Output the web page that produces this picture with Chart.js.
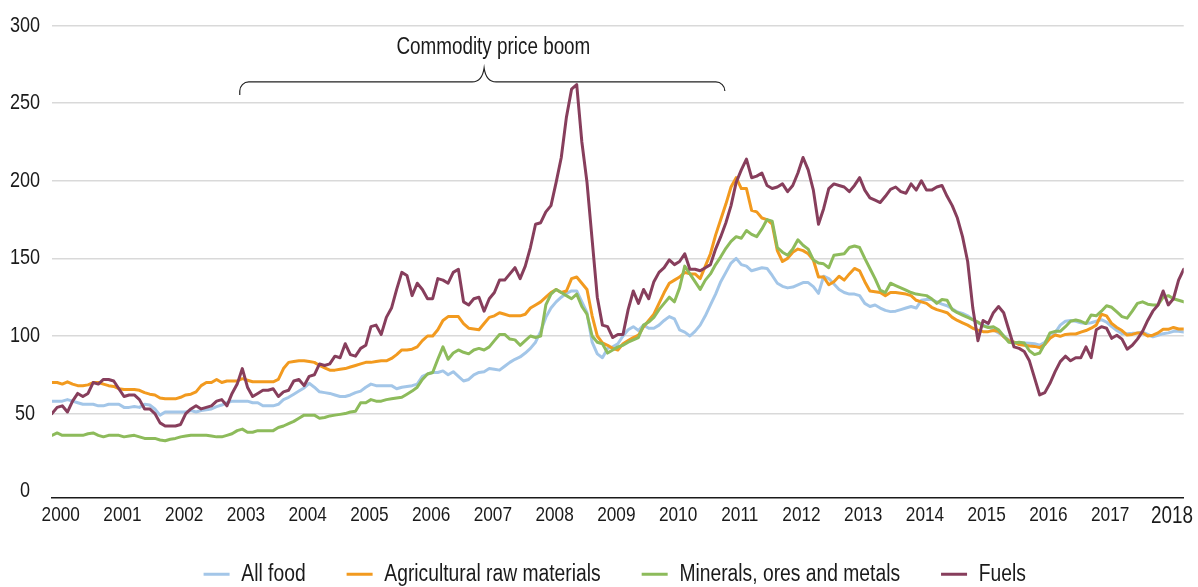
<!DOCTYPE html>
<html><head><meta charset="utf-8">
<script src="https://cdn.jsdelivr.net/npm/chart.js@4.4.0/dist/chart.umd.min.js"></script>
<style>html,body{margin:0;padding:0;background:#fff;}#wrap{width:1198px;height:587px;}</style>
</head><body><div id="wrap"><canvas id="c" width="1198" height="587"></canvas></div>
<script>
const FONT = "'Liberation Sans', Arial, sans-serif";
const CONDENSE = 0.82;
const startYear = 2000;
const yearLabels = ['2000','2001','2002','2003','2004','2005','2006','2007','2008','2009','2010','2011','2012','2013','2014','2015','2016','2017','2018'];
const yTickValues = [0, 50, 100, 150, 200, 250, 300];
const seriesNames = ['All food', 'Agricultural raw materials', 'Minerals, ores and metals', 'Fuels'];

const allFood = [58,58,58,59,58,57,56,56,56,55,
55,56,56,56,54,54,54.5,54,56,55.5,
53,49,51,51,51,51,51,52,51,52,
52.5,53,54.5,55.5,57,58,58,58,58,57,
57,55,55,55,56,59,60.5,62.5,64.5,66.5,
69.5,67,64,63.5,63,62,61,61,62,63.5,
64.5,67,69,68,68,68,68,66,67,67.5,
68,69,74,75.5,76.5,76.5,77.5,75,77,74,
71,72,75,76.5,77,79,78.5,78,80.5,83,
85,86.5,89,92,96,103,112,118,122,125,
127.5,129,129,122,115,96,88.5,86,92,93,
95,100,104,106,103.5,107,105,105,107,110,
112.5,111,104,102.5,100,103,107,113,120,127,
135,141,147,150,146,145,142,143,144,143.5,
139,134,132,131,131.5,133,134.4,134.4,131.8,127.5,
138.5,137,133.5,130,128,127,127,126,121,119,
120,118,116.5,115.7,116,117,118,119,118,123,
123.5,123.5,122,120.5,119.5,117.5,115.5,114.5,113,110.5,
108.5,107,106,104,102,100,97.5,96,95.7,95.5,
95.3,95,94,96,99,102,107,109.5,110,109.5,
108.5,108,108.5,109.5,110.5,109,106,103.5,101.5,101.5,
101.7,102,102.5,101,99.5,100.5,101.5,102,103,103,102.5];

const agriRaw = [70,70,69,70.5,69,68,68,68.5,70,70,
69,68,67.5,66,65.5,65.5,65.5,65,63.5,62.5,
62,60,59.5,59.5,59.5,60.5,62,62.5,64,68,
70,70,72,70,71,71,71,72.5,71.5,70.5,
70.5,70.5,70.5,70.5,72,79,83,83.5,84,84,
83.5,83,81,79.5,78,78,78.5,79,80,81,
82,83,83,83.5,84,84,85.5,88,91,91,
91.5,93,97,100,100,104,110,112.5,112.5,112.5,
108,105,104.5,104,108,112,113,115,114,113,
113,113,114,118,120,122,125,128,130,128,
129,137,138,134,130,113,100,95.5,94,92,
91,95,97,99,100.5,106,110,114,121,128,
134,136,138,141,140,140,137,145,153,165,
175,185,196,202,195,195,181,180,176,175,
172,155,148,150,154,156,155,153,149,138,
138,133,135,138.5,136,140,143.5,142,135,129,
128.5,128,126,128,128,127.5,127,126,123,122,
121,118.5,117,116,115,112,110,108.5,107,105,
103.8,102.8,102.8,103.5,103,99.5,97,96,94.5,94,
93.6,93.3,92.5,94.5,98.5,100.6,99.8,101,101.3,101.3,
102.5,103.5,105,107,114,113,108,105.5,103.5,100.6,
101,102,102,100,100.5,102,104.3,104.3,105.5,104.5,104.5];

const minerals = [36,37.5,36,36,36,36,36,37,37.5,36,
35,36,36,36,35,35.5,36,35,34,34,
34,33,32.5,33.5,34,35,35.5,36,36,36,
36,35.5,35,35,36,37,39,40,38,38,
39,39,39,39,41,42,43.5,45,47,49,
49,49,47,47.5,48.5,49,49.5,50,51,51.5,
57,57,59,58,58,59,59.5,60,60.5,62.5,
64.5,67,72,75.5,76.5,85,93,85,89,91,
89.5,88.5,91,92,91,93,97,101,101,98,
97.5,94,97,100,99,100,120,127,130,128,
126,124,127,119,114,100,96,95,89,91,
93,94,96,97.5,99,107,109,112,117,121,
125,122,131,145,140,135,130,136,140,146,
151,156.5,161,164,163,168,165.5,164,169,175,
174,157,154,152,156,162,158.5,156,149,147,
146.5,144,152,152.5,153,157,158,157,150,143.5,
137,129.5,128,134,132.5,131,129.5,128,127,126.5,
126,124,121,123.5,123,117,115,113.5,112,110.5,
109,106.5,105.5,106,104,100,96,95.5,96,95.5,
90.5,88,89,95,102,103,103,106,109.5,110.3,
109.5,108,113.5,113,116,119.5,118.5,115.5,112.5,111.5,
116,121,122,120.5,120,120,125,126,124,123,122];

const fuels = [50,54,55,51,58,63,61,63,70,69,
72,72,71,66,61,62,62,59,53,53,
50,44,42,42,42,43,50,53,55,53,
54,55,58,59,55,63,69,79,67,61,
63,65,65,66,61,64,65,71,72,68,
74,75,82,81,82,87,86,95,88,87,
92,94,106,107,101,112,118,130,141,139,
126,134,130,124,124,137,136,134,141,143,
122,120,124,125,116,124,128,136,136,140,
144,137,145,157,172,173,180,184,199,215,
241,259,262,225,199,162,125,107,106,99,
101,101,117,129,121,130,124,135,141,144,
149,146,148,153,143,143,142,144,146,156,
164,173,184,199,207,214,202,203,205,197,
195,196,198,193,197,205,215,207,194,172,
182,195,198,197,196,193,197,202,194,189,
187.5,186,190,194.5,196,193,192,198,194,200,
194,194,196,197,190,184,176,164,148,118,
97,110,108,115,119,115,104,93,92,90,
84,73,62,63.5,69.5,77,83.5,87,84,86,
86,93,86,104,106,105,98.5,100.5,98,91.5,
94,98,103,110,116,120,129,120,124,136,143];

const boom = { text: 'Commodity price boom', from: 36.5, to: 130.8, mid: 84, textX: 85.8, braceY: 263.7, endY: 255.3, tipY: 272.7, textY: 286 };

const monthLabels = allFood.map((_, i) => `${startYear + Math.floor(i / 12)}-${String(i % 12 + 1).padStart(2, '0')}`);
const series = [allFood, agriRaw, minerals, fuels];
const colors = ['#A3C6E8', '#F29A1F', '#8DBB5B', '#873E5C'];

// condensed text rendering (the reference uses a condensed sans face)
const canvas = document.getElementById('c');
const c2d = canvas.getContext('2d');
const origFill = c2d.fillText.bind(c2d);
const origMeasure = c2d.measureText.bind(c2d);
c2d.fillText = function (text, x, y, maxWidth) {
  this.save();
  this.translate(x, y);
  this.scale(CONDENSE, 1);
  if (maxWidth !== undefined && maxWidth !== null) origFill(text, 0, 0, maxWidth / CONDENSE);
  else origFill(text, 0, 0);
  this.restore();
};
c2d.measureText = function (text) {
  const m = origMeasure(text);
  return {
    width: m.width * CONDENSE,
    actualBoundingBoxLeft: m.actualBoundingBoxLeft * CONDENSE,
    actualBoundingBoxRight: m.actualBoundingBoxRight * CONDENSE,
    actualBoundingBoxAscent: m.actualBoundingBoxAscent,
    actualBoundingBoxDescent: m.actualBoundingBoxDescent,
    fontBoundingBoxAscent: m.fontBoundingBoxAscent,
    fontBoundingBoxDescent: m.fontBoundingBoxDescent
  };
};

const LEGEND_FIT_H = 49.3;
const legendFix = {
  id: 'legendFix',
  afterInit(chart) {
    const lg = chart.legend;
    if (!lg) return;
    const f = lg.fit;
    lg.fit = function () { f.call(this); this.height = LEGEND_FIT_H; };
  },
  afterLayout(chart) {
    const lg = chart.legend;
    if (!lg) return;
    lg.left = 44;
    lg.width = lg.right - lg.left;
    lg.top = 521.5;
    lg.bottom = 600;
    lg.height = lg.bottom - lg.top;
  }
};

const boomPlugin = {
  id: 'boom',
  afterDatasetsDraw(chart) {
    const { ctx, scales: { x, y } } = chart;
    const L = x.getPixelForValue(boom.from), R = x.getPixelForValue(boom.to), C = x.getPixelForValue(boom.mid);
    const TX = x.getPixelForValue(boom.textX);
    const yH = y.getPixelForValue(boom.braceY), yE = y.getPixelForValue(boom.endY);
    const yT = y.getPixelForValue(boom.tipY), yText = y.getPixelForValue(boom.textY);
    const r = 9, w = 12;
    ctx.save();
    ctx.strokeStyle = '#222';
    ctx.lineWidth = 1.2;
    ctx.beginPath();
    ctx.moveTo(L, yE);
    ctx.arcTo(L, yH, L + r, yH, r);
    ctx.lineTo(C - w, yH);
    ctx.quadraticCurveTo(C - 2, yH, C, yT);
    ctx.quadraticCurveTo(C + 2, yH, C + w, yH);
    ctx.lineTo(R - r, yH);
    ctx.arcTo(R, yH, R, yE, r);
    ctx.stroke();
    ctx.font = `23px ${FONT}`;
    ctx.fillStyle = '#1a1a1a';
    ctx.textAlign = 'center';
    ctx.textBaseline = 'middle';
    ctx.fillText(boom.text, TX, yText);
    ctx.restore();
  }
};

new Chart(canvas, {
  type: 'line',
  data: {
    labels: monthLabels,
    datasets: series.map((s, k) => ({
      label: seriesNames[k],
      data: s.map((v, i) => ({ x: i, y: v })),
      borderColor: colors[k],
      backgroundColor: colors[k],
      borderWidth: 3,
      pointRadius: 0,
      tension: 0,
      order: 4 - k,
      borderJoinStyle: 'round',
      borderCapStyle: 'round'
    }))
  },
  options: {
    responsive: false,
    animation: false,
    devicePixelRatio: 1,
    layout: { padding: { left: 0, right: 12.5, top: 25.6, bottom: 0 } },
    plugins: {
      legend: {
        position: 'bottom',
        labels: {
          boxWidth: 26, boxHeight: 3, padding: 41, color: '#1a1a1a',
          font: { family: FONT, size: 23.5 },
          sort: (a, b) => a.datasetIndex - b.datasetIndex,
          generateLabels(chart) {
            const items = Chart.defaults.plugins.legend.labels.generateLabels(chart);
            items.forEach(it => { it.lineWidth = 0; it.fillStyle = it.strokeStyle; });
            return items;
          }
        }
      },
      tooltip: { enabled: false }
    },
    scales: {
      x: {
        type: 'linear', min: 0, max: monthLabels.length - 1,
        grid: { display: false, drawTicks: false },
        border: { display: true, color: '#1a1a1a', width: 1.5 },
        afterBuildTicks: s => { s.ticks = yearLabels.map((yl, k) => ({ value: k * 12 + 1.7 })); },
        afterFit: s => { s.height = 40; },
        ticks: {
          autoSkip: false, maxRotation: 0, padding: 5, color: '#1a1a1a',
          font: c => ({ family: FONT, size: (c.tick && c.tick.label === '2018') ? 23 : 21 }),
          callback: (v, i) => yearLabels[i]
        }
      },
      y: {
        min: -4.2, max: 300,
        afterBuildTicks: s => { s.ticks = yTickValues.map(v => ({ value: v })); },
        afterFit: s => { s.width = 52; },
        border: { display: false },
        grid: { color: c => (c.tick && c.tick.value === 0) ? 'rgba(0,0,0,0)' : '#D9D9D9', lineWidth: 1.5, drawTicks: false },
        ticks: { crossAlign: 'center', padding: 12, color: '#1a1a1a', font: { family: FONT, size: 22 } }
      }
    }
  },
  plugins: [legendFix, boomPlugin]
});
</script>
</body></html>
